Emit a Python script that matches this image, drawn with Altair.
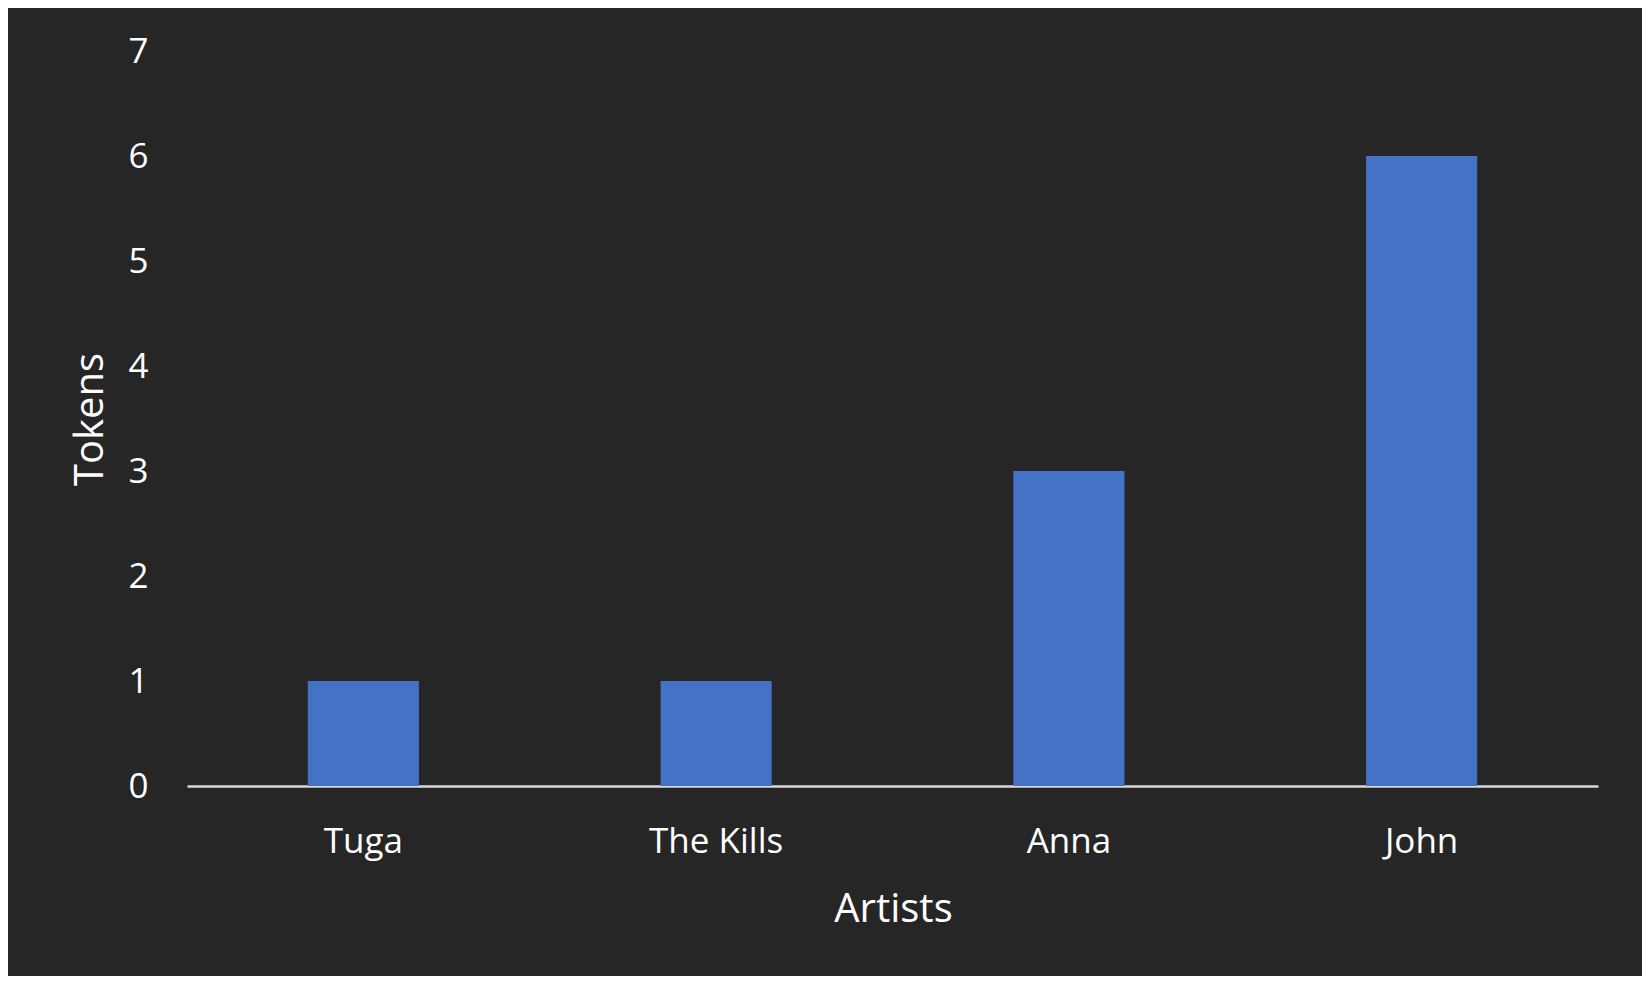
import altair as alt
import pandas as pd

artists = ["Tuga", "The Kills", "Anna", "John"]
tokens = [1, 1, 3, 6]

df = pd.DataFrame({"Artists": artists, "Tokens": tokens})

FONT = "Open Sans"
TXT = "#FFFFFF"

chart = (
    alt.Chart(df)
    .mark_bar(color="#4472C4")
    .encode(
        x=alt.X(
            "Artists:N",
            sort=artists,
            scale=alt.Scale(paddingInner=0.685, paddingOuter=0.3425),
            axis=alt.Axis(
                title="Artists",
                labelAngle=0,
                labelFont=FONT,
                labelFontSize=35,
                labelColor=TXT,
                labelBaseline="alphabetic",
                labelPadding=66,
                ticks=False,
                tickSize=0,
                domain=True,
                domainColor="#D9D9D9",
                domainWidth=2.5,
                titleFont=FONT,
                titleFontSize=40,
                titleFontWeight="normal",
                titleColor=TXT,
                titleX=706,
                titleY=135,
                titleAlign="center",
                titleBaseline="alphabetic",
            ),
        ),
        y=alt.Y(
            "Tokens:Q",
            scale=alt.Scale(domain=[0, 7], nice=False),
            axis=alt.Axis(
                title="Tokens",
                values=[0, 1, 2, 3, 4, 5, 6, 7],
                grid=False,
                domain=False,
                ticks=False,
                tickSize=0,
                labelFont=FONT,
                labelFontSize=35,
                labelColor=TXT,
                labelPadding=39,
                titleFont=FONT,
                titleFontSize=40,
                titleFontWeight="normal",
                titleColor=TXT,
                titleAngle=-90,
                titleX=-85,
                titleY=368,
                titleAlign="center",
                titleBaseline="alphabetic",
            ),
        ),
    )
    .properties(
        width=1411,
        height=735,
        background="#262626",
        padding={"left": 179, "top": 43, "right": 44, "bottom": 190},
        autosize=alt.AutoSizeParams(type="none"),
    )
    .configure_view(stroke=None)
)

chart.save("out.html", embed_options={"renderer": "svg", "actions": False})
